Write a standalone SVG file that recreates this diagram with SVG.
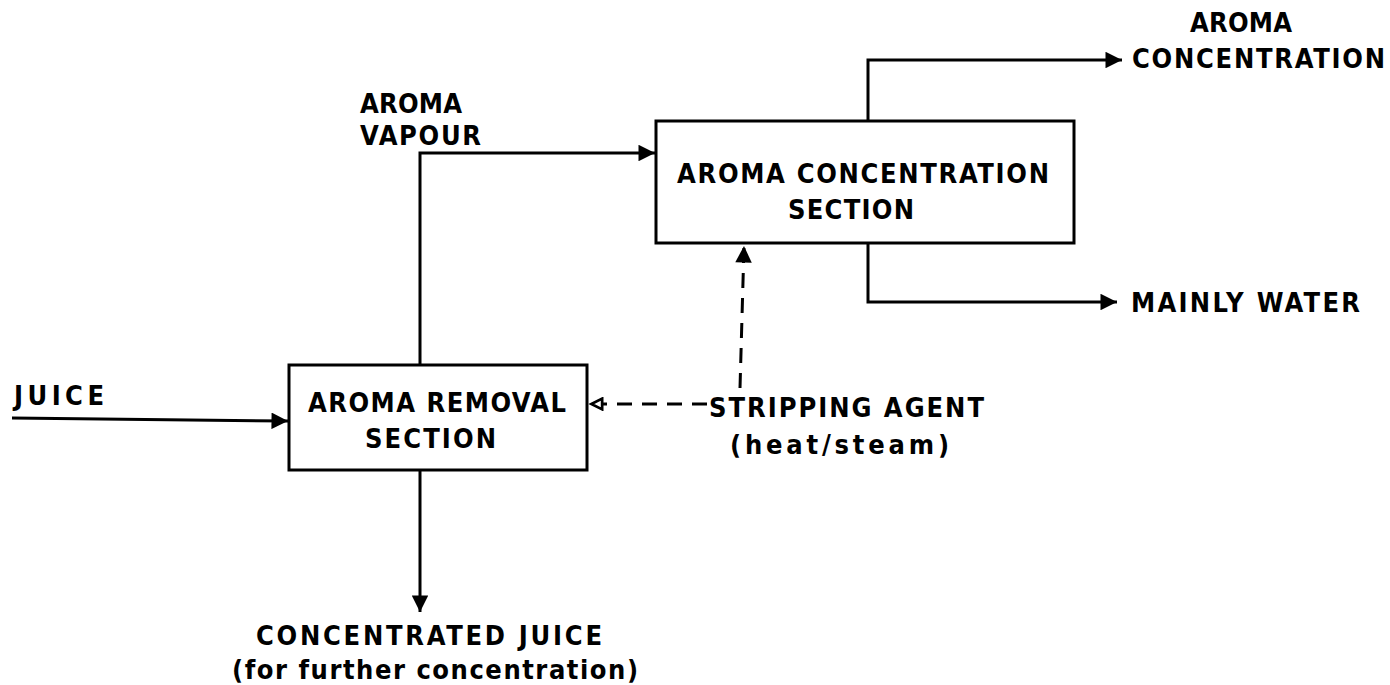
<svg xmlns="http://www.w3.org/2000/svg" width="1390" height="685" viewBox="0 0 1390 685">
<defs>
<marker id="ah" viewBox="0 0 10 10" refX="10" refY="5" markerWidth="8" markerHeight="5.5" markerUnits="strokeWidth" orient="auto"><path d="M0,0 L10,5 L0,10 z" fill="#000"/></marker>
<marker id="ao" viewBox="0 0 10 10" refX="10" refY="5" markerWidth="6" markerHeight="4.5" markerUnits="strokeWidth" orient="auto"><path d="M1,1 L9,5 L1,9 z" fill="#fff" stroke="#000" stroke-width="2"/></marker>
<style>
.box{fill:#fff;stroke:#000;stroke-width:3}
.ln{fill:none;stroke:#000;stroke-width:3}
.ds{fill:none;stroke:#000;stroke-width:3;stroke-dasharray:15,10}
text{font-family:"DejaVu Sans Condensed","DejaVu Sans",sans-serif;font-size:27px;font-weight:bold;fill:#000}
</style>
</defs>
<rect width="1390" height="685" fill="#fff"/>
<g id="connectors">
<path class="ln" d="M12,418 L288,421" marker-end="url(#ah)"/>
<path class="ln" d="M420,365 L420,153 L655,153" marker-end="url(#ah)"/>
<path class="ln" d="M420,470 L420,612" marker-end="url(#ah)"/>
<path class="ln" d="M868,121 L868,60 L1122,60" marker-end="url(#ah)"/>
<path class="ln" d="M868,243 L868,302 L1117,302" marker-end="url(#ah)"/>
<path class="ds" d="M707,404 L590,404" marker-end="url(#ao)"/>
<path class="ds" d="M740,388 L744,246" marker-end="url(#ah)"/>
</g>
<g id="aroma-concentration-section">
<rect class="box" x="656" y="121" width="418" height="122"/>
<text x="677" y="183" textLength="372" lengthAdjust="spacing">AROMA CONCENTRATION</text>
<text x="788" y="219" textLength="126" lengthAdjust="spacing">SECTION</text>
</g>
<g id="aroma-removal-section">
<rect class="box" x="289" y="365" width="298" height="105"/>
<text x="308" y="412" textLength="258" lengthAdjust="spacing">AROMA REMOVAL</text>
<text x="365" y="448" textLength="131" lengthAdjust="spacing">SECTION</text>
</g>
<g id="labels">
<text x="14" y="405" textLength="90" lengthAdjust="spacing">JUICE</text>
<text x="360" y="113" textLength="102" lengthAdjust="spacing">AROMA</text>
<text x="360" y="145" textLength="121" lengthAdjust="spacing">VAPOUR</text>
<text x="1190" y="32" textLength="102" lengthAdjust="spacing">AROMA</text>
<text x="1132" y="68" textLength="253" lengthAdjust="spacing">CONCENTRATION</text>
<text x="1131" y="312" textLength="229" lengthAdjust="spacing">MAINLY WATER</text>
<text x="709" y="417" textLength="275" lengthAdjust="spacing">STRIPPING AGENT</text>
<text x="730" y="454" textLength="219" lengthAdjust="spacing">(heat/steam)</text>
<text x="256" y="645" textLength="346" lengthAdjust="spacing">CONCENTRATED JUICE</text>
<text x="232" y="679" textLength="406" lengthAdjust="spacing">(for further concentration)</text>
</g>
</svg>
